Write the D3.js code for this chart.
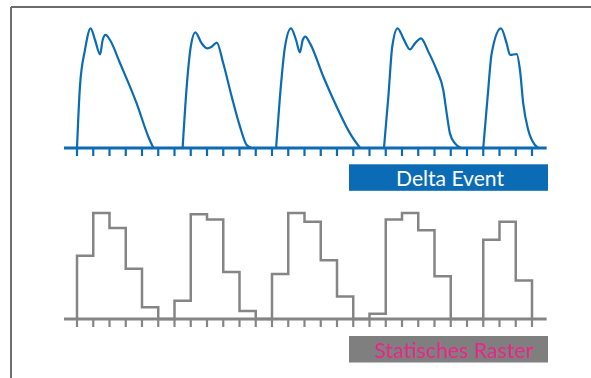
<!DOCTYPE html>
<html>
<head>
<meta charset="utf-8">
<script src="https://cdn.jsdelivr.net/npm/d3@7"></script>
<style>
  body { margin: 0; background: #fff; }
  svg { display: block; }
  .label { font-family: Lato, "Open Sans", sans-serif; font-weight: 400; }
</style>
</head>
<body>
<div id="chart"></div>
<script>
// tick positions along both axes (29 time slots)
var slots = d3.range(29)

// delta event pulses: [slot position, signal level 0..100]
var pulse1 = [[0,0],[0.18,51],[0.49,81.7],[0.84,99.7],[1.11,90],[1.42,78],[1.58,90],[1.76,94.2],[2.03,90],
              [2.65,70.6],[3.67,37.2],[4.39,9.4],[4.7,0]]
var pulse2 = [[6.5,0],[6.75,51],[7.0,84.4],[7.28,96.4],[7.67,87.2],[8.02,83],[8.29,84.4],[8.6,87.8],[9.0,70.6],
              [9.52,42.8],[10.03,17.8],[10.44,2.5],[10.75,0]]
var pulse3 = [[12.25,0],[12.49,42.8],[12.8,84.4],[13.17,99.7],[13.48,90],[13.72,79.7],[13.89,90],[14.05,92.8],
              [14.34,87.2],[15.16,59.4],[15.98,34.4],[16.8,12.2],[17.42,0]]
var pulse4 = [[18.89,0],[19.16,42.8],[19.4,84.4],[19.73,99.7],[20.08,91.4],[20.49,82.2],[20.8,87.2],[21.17,91.4],
              [21.62,80.3],[22.13,65],[22.54,48.3],[22.75,28.9],[22.95,12.2],[23.26,3.9],[23.63,0]]
var pulse5 = [[25,0],[25.27,42.8],[25.52,78.9],[26.09,99.7],[26.44,87.2],[26.65,77.5],[27.06,78.3],[27.26,65],
              [27.46,37.2],[27.77,15],[28.18,2.5],[28.39,0]]
var deltaPulses = [pulse1, pulse2, pulse3, pulse4, pulse5]

// static raster: level per slot interval
var rasterLevels = [59,99,85,47,11,0,17,98,93,44,7.5,0,42,99,91,55,21,0,5,93,99,83,40,0,0,74,91,36]

var legendLabels = ["Delta Event", "Statisches Raster"]

var width = 591, height = 378
var blue = "#0b6bb5", grey = "#858585"

var svg = d3.select("#chart").append("svg")
    .attr("width", width)
    .attr("height", height)

// frame
svg.append("line").attr("x1", 11).attr("x2", width).attr("y1", 7).attr("y2", 7)
    .attr("stroke", "#3a3a3a").attr("stroke-width", 1.5)
svg.append("line").attr("x1", 11).attr("x2", 11).attr("y1", 7).attr("y2", height)
    .attr("stroke", "#6f6f6f").attr("stroke-width", 2)

var x = d3.scaleLinear().domain([0, 28]).range([77, 532])
var yTop = d3.scaleLinear().domain([0, 100]).range([148, 28])
var yBot = d3.scaleLinear().domain([0, 100]).range([319, 212])

function drawAxis(g, yPos, color){
    g.append("line")
        .attr("x1", x(-0.8)).attr("x2", x(28.9))
        .attr("y1", yPos).attr("y2", yPos)
        .attr("stroke", color).attr("stroke-width", 3)
    g.selectAll(".tick").data(slots).enter()
        .append("line")
        .attr("x1", d => x(d)).attr("x2", d => x(d))
        .attr("y1", yPos).attr("y2", yPos + 8)
        .attr("stroke", color).attr("stroke-width", 2.2)
}

// top: delta event
var deltaG = svg.append("g")
drawAxis(deltaG, yTop(0), blue)

var pulseLine = d3.line()
    .x(d => x(d[0]))
    .y(d => yTop(d[1]))
    .curve(d3.curveMonotoneX)

deltaG.selectAll(".pulse").data(deltaPulses).enter()
    .append("path")
    .attr("d", pulseLine)
    .attr("fill", "none")
    .attr("stroke", blue)
    .attr("stroke-width", 2.2)

// bottom: static raster
var rasterG = svg.append("g")
drawAxis(rasterG, yBot(0), grey)

var stepData = [[0, 0]].concat(rasterLevels.map((v, i) => [i, v]))
stepData.push([28, 0])

rasterG.append("path")
    .attr("d", d3.line()
        .x(d => x(d[0]))
        .y(d => yBot(d[1]))
        .curve(d3.curveStepAfter)(stepData))
    .attr("fill", "none")
    .attr("stroke", grey)
    .attr("stroke-width", 2.5)

// labels
function drawLabel(y0, fill, textColor, text, tx, tw){
    svg.append("rect")
        .attr("x", 349).attr("y", y0)
        .attr("width", 199).attr("height", 26.5)
        .attr("fill", fill)
    svg.append("text")
        .attr("class", "label")
        .attr("x", tx).attr("y", y0 + 21.5)
        .attr("font-size", 22)
        .attr("fill", textColor)
        .attr("textLength", tw)
        .attr("lengthAdjust", "spacingAndGlyphs")
        .text(text)
}
drawLabel(164.3, blue, "#ffffff", legendLabels[0], 396, 108)
drawLabel(336, "#7f7f7f", "#e8288a", legendLabels[1], 374.5, 159)
</script>
</body>
</html>
